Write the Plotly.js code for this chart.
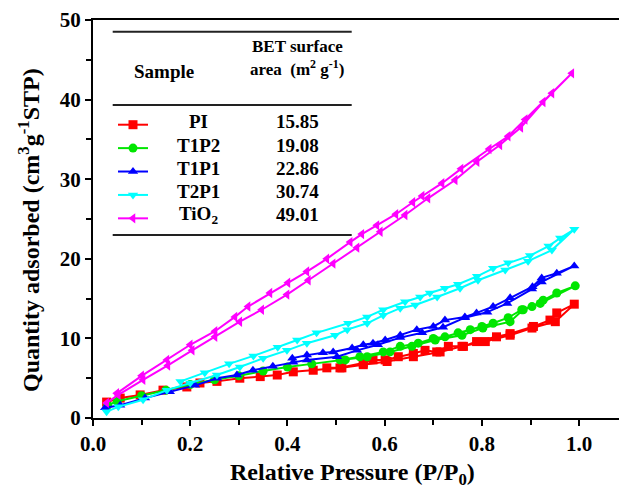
<!DOCTYPE html>
<html>
<head>
<meta charset="utf-8">
<script src="https://cdn.plot.ly/plotly-3.0.1.min.js"></script>
<style>html,body{margin:0;padding:0;background:#fff;}#chart{width:619px;height:488px;}</style>
</head>
<body>
<div id="chart"></div>
<script>
// ---- data ----
const sampleNames = ["PI", "T1P2", "T1P1", "T2P1", "TiO<sub>2</sub>"];
const betValues = ["15.85", "19.08", "22.86", "30.74", "49.01"];

// PI
const piAdsX = [0.028, 0.056, 0.097, 0.144, 0.193, 0.22, 0.255, 0.302, 0.344, 0.379, 0.412, 0.453, 0.512, 0.556, 0.605, 0.659, 0.714, 0.759, 0.807, 0.858, 0.903, 0.951, 0.99];
const piAdsY = [2.0, 2.5, 2.9, 3.5, 3.9, 4.4, 4.6, 5.0, 5.2, 5.4, 5.8, 6.0, 6.3, 6.7, 7.1, 7.7, 8.3, 9.0, 9.6, 10.4, 11.3, 12.1, 14.3];
const piDesX = [0.954, 0.940, 0.906, 0.858, 0.830, 0.789, 0.762, 0.731, 0.707, 0.683, 0.659, 0.628, 0.601, 0.576, 0.556, 0.508, 0.481];
const piDesY = [13.2, 12.3, 11.5, 10.6, 10.2, 9.6, 9.0, 9.0, 8.3, 8.5, 8.1, 7.7, 7.3, 7.3, 6.9, 6.3, 6.3];

// T1P2
const t12AdsX = [0.03, 0.05, 0.1, 0.15, 0.2, 0.25, 0.3, 0.35, 0.4, 0.45, 0.519, 0.564, 0.611, 0.656, 0.704, 0.759, 0.802, 0.858, 0.885, 0.920, 0.992];
const t12AdsY = [1.6, 2.1, 2.8, 3.5, 4.2, 4.8, 5.3, 5.9, 6.4, 6.8, 7.3, 7.7, 8.3, 9.0, 9.8, 10.4, 11.3, 12.1, 13.6, 14.4, 16.6];
const t12DesX = [0.954, 0.926, 0.903, 0.882, 0.854, 0.823, 0.800, 0.776, 0.751, 0.724, 0.700, 0.669, 0.632, 0.597, 0.549, 0.508];
const t12DesY = [15.7, 14.8, 14.0, 13.6, 12.6, 11.9, 11.5, 11.1, 10.7, 10.2, 10.0, 9.4, 9.0, 8.3, 7.7, 7.3];

// T1P1
const t11AdsX = [0.025, 0.056, 0.107, 0.158, 0.21, 0.255, 0.296, 0.329, 0.37, 0.412, 0.44, 0.502, 0.543, 0.586, 0.632, 0.677, 0.720, 0.765, 0.811, 0.852, 0.903, 0.923, 0.99];
const t11AdsY = [1.3, 1.6, 2.5, 3.3, 4.1, 5.0, 5.4, 6.0, 6.5, 7.0, 7.3, 7.7, 8.5, 9.2, 10.1, 10.7, 11.4, 12.6, 13.3, 14.4, 16.2, 17.1, 19.1];
const t11DesX = [0.954, 0.923, 0.904, 0.858, 0.823, 0.789, 0.765, 0.724, 0.700, 0.666, 0.632, 0.601, 0.576, 0.556, 0.533, 0.494, 0.473, 0.44, 0.41];
const t11DesY = [18.2, 17.6, 16.5, 15.1, 14.0, 13.2, 12.7, 12.3, 11.5, 11.1, 10.4, 9.8, 9.4, 9.2, 8.8, 8.3, 8.2, 7.9, 7.5];

// T2P1
const t21AdsX = [0.028, 0.052, 0.103, 0.152, 0.2, 0.255, 0.302, 0.35, 0.399, 0.440, 0.498, 0.523, 0.564, 0.597, 0.632, 0.663, 0.708, 0.755, 0.792, 0.848, 0.895, 0.944, 0.99];
const t21AdsY = [0.8, 1.4, 2.3, 3.5, 4.4, 5.4, 6.4, 7.5, 8.5, 9.4, 10.4, 11.1, 11.9, 12.9, 13.8, 14.2, 15.2, 16.3, 17.3, 18.6, 19.7, 21.1, 23.7];
const t21DesX = [0.961, 0.937, 0.899, 0.854, 0.823, 0.790, 0.751, 0.724, 0.693, 0.673, 0.642, 0.597, 0.564, 0.525, 0.46, 0.42, 0.38, 0.33, 0.28, 0.23, 0.18];
const t21DesY = [22.6, 21.6, 20.4, 19.5, 18.8, 17.8, 16.8, 16.3, 15.7, 15.2, 14.6, 13.6, 12.7, 11.9, 10.7, 9.8, 8.9, 7.8, 6.8, 5.7, 4.6];

// TiO2
const tioAdsX = [0.028, 0.052, 0.103, 0.154, 0.204, 0.251, 0.302, 0.347, 0.399, 0.443, 0.494, 0.543, 0.591, 0.642, 0.689, 0.745, 0.790, 0.837, 0.880, 0.926, 0.985];
const tioAdsY = [1.9, 2.9, 4.8, 6.6, 8.5, 10.2, 12.1, 13.6, 15.5, 17.3, 19.4, 21.4, 23.4, 25.5, 27.6, 29.9, 32.2, 34.3, 36.5, 39.7, 43.3];
const tioDesX = [0.944, 0.889, 0.854, 0.815, 0.757, 0.718, 0.677, 0.658, 0.623, 0.584, 0.553, 0.529, 0.481, 0.44, 0.401, 0.364, 0.319, 0.292, 0.251, 0.2, 0.152, 0.1, 0.049];
const tioDesY = [40.8, 37.5, 35.4, 33.8, 31.3, 29.5, 27.9, 27.1, 25.6, 24.2, 23.1, 22.1, 20.0, 18.4, 17.0, 15.7, 14.0, 12.7, 10.9, 9.2, 7.3, 5.3, 3.1];

const xTickVals = [0, 0.2, 0.4, 0.6, 0.8, 1.0];
const yTickVals = [0, 10, 20, 30, 40, 50];

// ---- styling ----
const colors = ["#ff0000", "#00e600", "#0000ff", "#00ffff", "#ff00ff"];
const symbols = ["square", "circle", "triangle-up", "triangle-down", "triangle-left"];
const series = [
  [piAdsX, piAdsY, piDesX, piDesY],
  [t12AdsX, t12AdsY, t12DesX, t12DesY],
  [t11AdsX, t11AdsY, t11DesX, t11DesY],
  [t21AdsX, t21AdsY, t21DesX, t21DesY],
  [tioAdsX, tioAdsY, tioDesX, tioDesY]
];
const FONT = "Liberation Serif";

const traces = series.map((s, i) => ({
  type: "scatter",
  mode: "lines+markers",
  x: s[0].concat(s[2]),
  y: s[1].concat(s[3]),
  name: "",
  line: {color: colors[i], width: 2},
  marker: {color: colors[i], symbol: symbols[i], size: 9},
  showlegend: true,
  hoverinfo: "x+y"
}));

// pixel helpers for the table overlay (paper coordinates)
const L = 93, T = 20, W = 526, H = 398;
const px = v => (v - L) / W;
const py = v => (T + H - v) / H;

const rowY = [121.7, 145, 168.3, 191.7, 215];
const annotations = [];
const ann = (text, x, y, size, extra) => Object.assign({text: text, x: px(x), y: py(y), xref: "paper", yref: "paper", showarrow: false, xanchor: "center", yanchor: "middle", font: {family: FONT, size: size, color: "#000", weight: "bold"}}, extra || {});
annotations.push(ann("<b>Sample</b>", 164, 71.7, 19));
annotations.push(ann("<b>BET surface</b>", 297, 46.7, 17));
annotations.push(ann("<b>area  (m<sup>2</sup> g<sup>-1</sup>)</b>", 297, 68, 17));
sampleNames.forEach((n, i) => {
  annotations.push(ann("<b>" + n + "</b>", 198, rowY[i], 19));
  annotations.push(ann("<b>" + betValues[i] + "</b>", 297, rowY[i], 19));
});
annotations.push(ann("<b>Relative Pressure (P/P<sub>0</sub>)</b>", 352, 474, 24));
annotations.push(ann("<b>Quantity adsorbed (cm<sup>3</sup>g<sup>-1</sup>STP)</b>", 29, 230, 24, {textangle: -90}));

const hline = (y, x0, x1) => ({type: "line", xref: "paper", yref: "paper", x0: px(x0), x1: px(x1), y0: py(y), y1: py(y), line: {color: "#222", width: 2}});
const shapes = [hline(31.7, 112.7, 351.7), hline(105, 112.7, 351.7), hline(235, 112.7, 351.7)];

const layout = {
  width: 619, height: 488,
  margin: {l: 93, r: 0, t: 20, b: 70},
  paper_bgcolor: "#fff", plot_bgcolor: "#fff",
  font: {family: FONT, size: 20, color: "#000", weight: "bold"},
  showlegend: true,
  legend: {x: px(113), y: py(108), xanchor: "left", yanchor: "top", bgcolor: "rgba(0,0,0,0)", borderwidth: 0, font: {family: FONT, size: 15.7}, itemsizing: "trace", itemwidth: 30},
  xaxis: {
    range: [0, 1.082], tickvals: xTickVals, ticktext: xTickVals.map(v => v.toFixed(1)),
    ticks: "outside", ticklen: 6, tickwidth: 2, tickcolor: "#000",
    minor: {tickvals: [0.1, 0.3, 0.5, 0.7, 0.9], ticks: "outside", ticklen: 5, tickwidth: 2, tickcolor: "#000"},
    showline: true, linewidth: 2, linecolor: "#000", mirror: true,
    showgrid: false, zeroline: false,
    tickfont: {family: FONT, size: 21, weight: "bold", color: "#000"}
  },
  yaxis: {
    range: [0, 50], tickvals: yTickVals,
    ticks: "outside", ticklen: 6, tickwidth: 2, tickcolor: "#000",
    minor: {tickvals: [5, 15, 25, 35, 45], ticks: "outside", ticklen: 5, tickwidth: 2, tickcolor: "#000"},
    showline: true, linewidth: 2, linecolor: "#000", mirror: false,
    showgrid: false, zeroline: false,
    tickfont: {family: FONT, size: 21, weight: "bold", color: "#000"}
  },
  annotations: annotations,
  shapes: shapes
};

Plotly.newPlot("chart", traces, layout, {displayModeBar: false, staticPlot: true});
</script>
</body>
</html>
